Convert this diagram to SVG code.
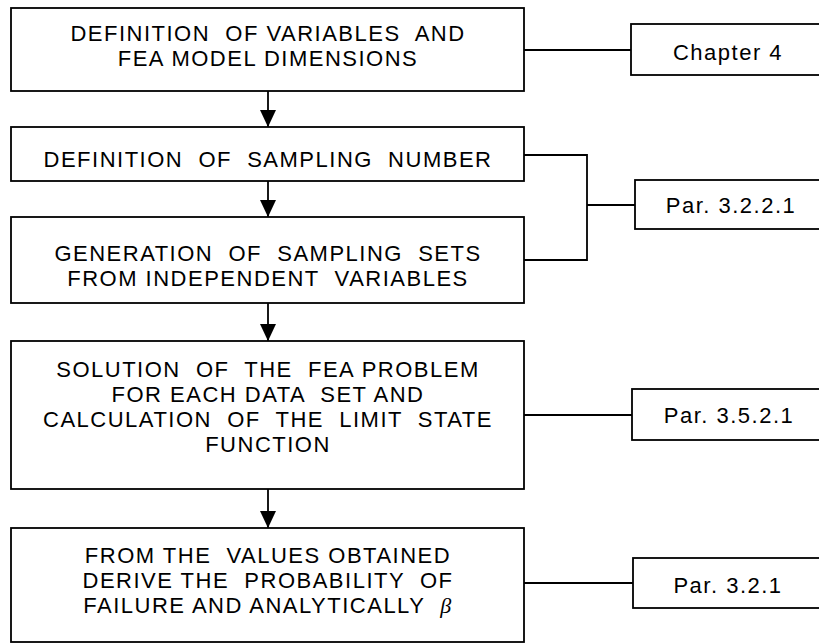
<svg xmlns="http://www.w3.org/2000/svg" width="819" height="644" viewBox="0 0 819 644">
<style>
.box{fill:#fff;stroke:#000;stroke-width:1.8}
.t{font-family:"Liberation Sans",Arial,sans-serif;font-size:22px;letter-spacing:1.5px;fill:#000;text-anchor:middle;white-space:pre}
.c{fill:none;stroke:#000;stroke-width:1.8}
.b{font-family:"Liberation Serif","Times New Roman",serif;font-style:italic}
</style>
<defs>
<marker id="ah" markerUnits="userSpaceOnUse" markerWidth="18" markerHeight="16" viewBox="0 0 18 16" refX="17" refY="8" orient="auto">
<path d="M0,0 L17,8 L0,16 z" fill="#000"/>
</marker>
</defs>
<rect x="0" y="0" width="819" height="644" fill="#fff"/>
<g id="connectors">
<line class="c" x1="268" y1="91" x2="268" y2="127" marker-end="url(#ah)"/>
<line class="c" x1="268" y1="181" x2="268" y2="217" marker-end="url(#ah)"/>
<line class="c" x1="268" y1="303" x2="268" y2="341" marker-end="url(#ah)"/>
<line class="c" x1="268" y1="489" x2="268" y2="528" marker-end="url(#ah)"/>
<line class="c" x1="524" y1="50" x2="631" y2="50"/>
<polyline class="c" points="524,155 587,155 587,260 524,260"/>
<line class="c" x1="587" y1="205" x2="635" y2="205"/>
<line class="c" x1="524" y1="415" x2="632" y2="415"/>
<line class="c" x1="524" y1="583" x2="633" y2="583"/>
</g>
<g id="n1">
<rect class="box" x="11" y="8" width="513" height="83"/>
<text class="t" x="268" y="41">DEFINITION  OF VARIABLES  AND</text>
<text class="t" x="268" y="66">FEA MODEL DIMENSIONS</text>
</g>
<g id="n2">
<rect class="box" x="11" y="127" width="513" height="54"/>
<text class="t" x="268" y="167">DEFINITION  OF  SAMPLING  NUMBER</text>
</g>
<g id="n3">
<rect class="box" x="11" y="217" width="513" height="86"/>
<text class="t" x="268" y="261">GENERATION  OF  SAMPLING  SETS</text>
<text class="t" x="268" y="286">FROM INDEPENDENT  VARIABLES</text>
</g>
<g id="n4">
<rect class="box" x="11" y="341" width="513" height="148"/>
<text class="t" x="268" y="377">SOLUTION  OF  THE  FEA PROBLEM</text>
<text class="t" x="268" y="402">FOR EACH DATA  SET AND</text>
<text class="t" x="268" y="427">CALCULATION  OF  THE  LIMIT  STATE</text>
<text class="t" x="268" y="452">FUNCTION</text>
</g>
<g id="n5">
<rect class="box" x="11" y="528" width="513" height="114"/>
<text class="t" x="268" y="563">FROM THE  VALUES OBTAINED</text>
<text class="t" x="268" y="588">DERIVE THE  PROBABILITY  OF</text>
<text class="t" x="268" y="613">FAILURE AND ANALYTICALLY  <tspan class="b">β</tspan></text>
</g>
<g id="r1">
<rect class="box" x="631" y="24" width="196" height="51"/>
<text class="t" x="728" y="60">Chapter 4</text>
</g>
<g id="r2">
<rect class="box" x="635" y="180" width="192" height="49"/>
<text class="t" x="731" y="213">Par. 3.2.2.1</text>
</g>
<g id="r3">
<rect class="box" x="632" y="389" width="195" height="51"/>
<text class="t" x="729" y="423">Par. 3.5.2.1</text>
</g>
<g id="r4">
<rect class="box" x="633" y="558" width="194" height="50"/>
<text class="t" x="728" y="593">Par. 3.2.1</text>
</g>
</svg>
